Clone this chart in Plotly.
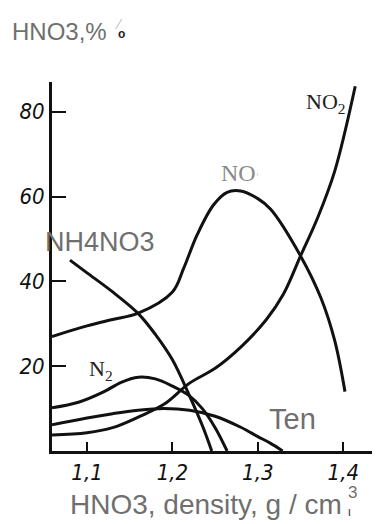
import plotly.graph_objects as go

# ---- data ----
no_x = [1.059, 1.10, 1.13, 1.16, 1.20, 1.213, 1.229, 1.248, 1.264, 1.28, 1.30, 1.315, 1.35, 1.374, 1.39, 1.402]
no_y = [27, 29.5, 31, 32.5, 37.5, 43, 51, 58, 61, 61.3, 59.5, 57, 46, 36, 26, 14]

no2_x = [1.059, 1.10, 1.13, 1.16, 1.19, 1.22, 1.25, 1.28, 1.31, 1.33, 1.35, 1.37, 1.39, 1.414]
no2_y = [3.8, 4.3, 5.5, 8, 11, 16, 19.5, 24.5, 31, 37, 46, 55, 66, 86]

n2_x = [1.059, 1.09, 1.12, 1.14, 1.16, 1.18, 1.20, 1.22, 1.235, 1.25, 1.264]
n2_y = [10.2, 11.5, 14, 16.2, 17.4, 17, 15.3, 13, 10, 5.5, 0]

ten_x = [1.059, 1.10, 1.13, 1.16, 1.19, 1.22, 1.25, 1.28, 1.30, 1.315, 1.329]
ten_y = [6.2, 7.8, 8.8, 9.6, 10, 9.6, 8.2, 5.6, 3.4, 1.8, 0]

nh4_x = [1.08, 1.10, 1.13, 1.16, 1.18, 1.20, 1.22, 1.235, 1.246]
nh4_y = [45, 42, 37.5, 32.4, 27.5, 21.5, 13, 6, 0]

x_ticks = [1.1, 1.2, 1.3, 1.4]
x_tick_labels = ["1,1", "1,2", "1,3", "1,4"]
y_ticks = [20, 40, 60, 80]
y_tick_labels = ["20", "40", "60", "80"]

series = [
    ("NO", no_x, no_y),
    ("NO2", no2_x, no2_y),
    ("N2", n2_x, n2_y),
    ("Ten", ten_x, ten_y),
    ("NH4NO3", nh4_x, nh4_y),
]

fig = go.Figure()
for name, xs, ys in series:
    fig.add_trace(go.Scatter(
        x=xs, y=ys, mode="lines", name=name,
        line=dict(color="#111111", width=3, shape="spline", smoothing=1.0),
        showlegend=False, hoverinfo="skip",
    ))

GRAY = "#6f6f6f"
SANS = "Liberation Sans, Arial, sans-serif"
SERIF = "Liberation Serif, Times New Roman, serif"
NARROW = "Liberation Sans Narrow, DejaVu Sans Condensed, Liberation Sans, sans-serif"


def label(x, y, text, font, ref="data", xanchor="center"):
    r = ("x", "y") if ref == "data" else ("paper", "paper")
    return dict(x=x, y=y, text=text, font=font, xref=r[0], yref=r[1],
                xanchor=xanchor, yanchor="middle", showarrow=False)


annotations = [
    # in-plot labels (data coordinates)
    label(1.379, 82, "NO<sub>2</sub>", dict(family=SERIF, size=22, color="#222222")),
    label(1.279, 65.6, "NO<span style='font-size:10px'>ʾ</span>", dict(family=SERIF, size=24, color="#8a8a8a")),
    label(1.115, 49.3, "NH4NO3", dict(family=SANS, size=27, color=GRAY)),
    label(1.116, 19.0, "N<sub>2</sub>", dict(family=SERIF, size=22, color="#222222")),
    label(1.341, 7.5, "Ten", dict(family=SANS, size=29, color=GRAY)),
    # outside labels (paper coordinates)
    label(-0.128, 1.138, "HNO3,%", dict(family=SANS, size=24, color=GRAY), ref="paper", xanchor="left"),
    label(0.204, 1.157, "⁄", dict(family=SANS, size=14, color="#bbbbbb"), ref="paper"),
    label(0.213, 1.130, "<b>o</b>", dict(family=SANS, size=12, color="#222222"), ref="paper"),
    label(0.468, -0.146, "HNO3, density, g / cm", dict(family=SANS, size=28, color=GRAY), ref="paper"),
    label(0.917, -0.112, "3", dict(family=SANS, size=17, color=GRAY), ref="paper"),
    label(0.908, -0.165, "ι", dict(family=SANS, size=12, color="#333333"), ref="paper"),
]

# the page body adds an 8px offset, so the figure is 8px smaller each way
fig.update_layout(
    width=372, height=516,
    margin=dict(l=44, r=0, t=74, b=73, pad=0),
    paper_bgcolor="white", plot_bgcolor="white",
    annotations=annotations,
    xaxis=dict(
        range=[1.059, 1.443], showgrid=False, zeroline=False,
        showline=True, linecolor="#111111", linewidth=3,
        ticks="inside", ticklen=9, tickwidth=1.5, tickcolor="#111111",
        tickvals=x_ticks, ticktext=x_tick_labels,
        tickfont=dict(family=NARROW, size=22, color="#111111", style="italic"),
    ),
    yaxis=dict(
        range=[0, 87], showgrid=False, zeroline=False,
        showline=True, linecolor="#111111", linewidth=3,
        ticks="inside", ticklen=14, tickwidth=1.5, tickcolor="#111111",
        tickvals=y_ticks, ticktext=y_tick_labels,
        tickfont=dict(family=NARROW, size=22, color="#111111", style="italic"),
    ),
)

fig.write_html("out.html")
